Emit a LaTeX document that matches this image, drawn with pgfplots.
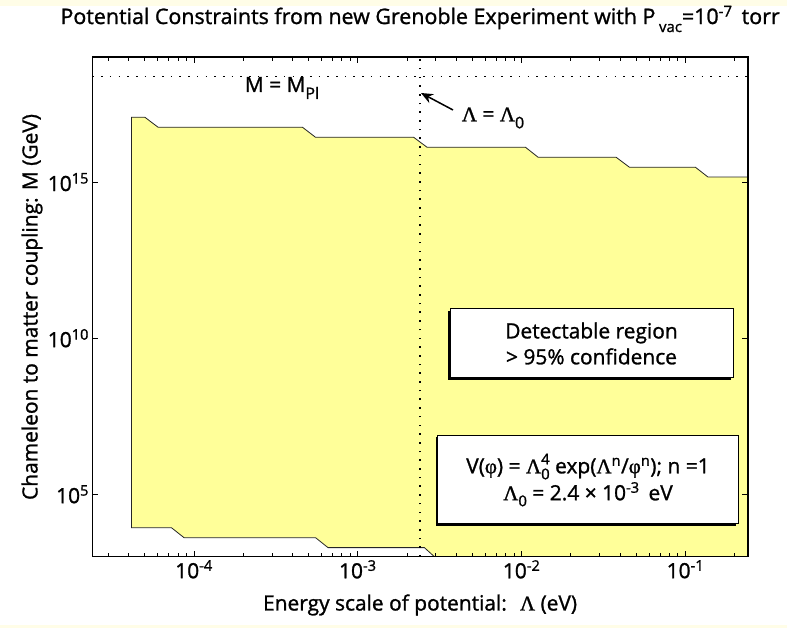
\documentclass[border=0pt]{standalone}
\usepackage{amsmath}
\usepackage{pgfplots}
\pgfplotsset{compat=1.18}
\usepackage{fontspec}
\setmainfont{Open Sans}[FakeBold=1.2]
\newfontfamily\grk{Liberation Serif}[FakeBold=1.2]
\usetikzlibrary{arrows.meta}
\definecolor{regfill}{RGB}{255,255,153}
\definecolor{pale}{RGB}{255,253,231}
\newcommand{\fs}{\fontsize{21}{26}\selectfont}
\newcommand{\La}{{\grk Λ}}
\newcommand{\ph}{{\grk φ}}
\begin{document}
\begin{tikzpicture}[x=1bp,y=1bp]
\useasboundingbox (0,0) rectangle (787,628);
\fill[white] (0,0) rectangle (787,628);
\fill[pale] (0,622) rectangle (787,628);
\fill[pale] (0,0) rectangle (787,3);
\begin{axis}[
  at={(92.5bp,71.3bp)}, anchor=south west,
  scale only axis, width=655.2bp, height=499.4bp,
  xmode=log, ymode=log,
  xmin=2.4e-5, xmax=0.24, ymin=1e3, ymax=1e19,
  xtick={1e-4,1e-3,1e-2,1e-1},
  xticklabels={10\textsuperscript{-4},10\textsuperscript{-3},10\textsuperscript{-2},10\textsuperscript{-1}},
  minor xtick={3e-5,4e-5,5e-5,6e-5,7e-5,8e-5,9e-5,2e-4,3e-4,4e-4,5e-4,6e-4,7e-4,8e-4,9e-4,2e-3,3e-3,4e-3,5e-3,6e-3,7e-3,8e-3,9e-3,2e-2,3e-2,4e-2,5e-2,6e-2,7e-2,8e-2,9e-2,2e-1},
  ytick={1e5,1e10,1e15},
  yticklabels={10\textsuperscript{5},10\textsuperscript{10},10\textsuperscript{15}},
  yminorticks=false,
  tick align=inside,
  major tick length=6bp, minor tick length=3.5bp,
  every tick/.style={black, line width=1bp},
  axis line style={line width=1.6bp},
  tick label style={font=\fs},
  axis on top=true,
  title={Potential Constraints from new Grenoble Experiment with P\,\raisebox{-8bp}{\fontsize{15}{15}\selectfont vac}=10\textsuperscript{-7}\, torr},
  title style={at={(axis description cs:0.5,1.0647)}, anchor=center, font=\fontsize{21.5}{26}\selectfont},
  xlabel={Energy scale of potential:\; \La\ (eV)},
  xlabel style={at={(axis description cs:0.5,-0.0967)}, anchor=center, font=\fs},
  ylabel={Chameleon to matter coupling: M (GeV)},
  ylabel style={at={(axis description cs:-0.0923,0.5)}, anchor=center, font=\fs},
]
\addplot[fill=regfill, draw=black!85, line width=0.8bp] coordinates {
(4.15e-5,8.5e3) (4.15e-5,1.2e17) (5.01e-5,1.2e17) (6.03e-5,5.75e16) (4.59e-4,5.75e16)
(5.51e-4,2.75e16) (2.19e-3,2.75e16) (2.64e-3,1.32e16) (1.054e-2,1.32e16) (1.259e-2,6.3e15)
(3.77e-2,6.3e15) (4.55e-2,3.0e15) (0.1151,3.0e15) (0.1374,1.45e15) (0.3,1.45e15)
(0.3,9e2) (3.00e-3,9e2) (2.55e-3,1.95e3) (6.58e-4,1.95e3) (5.52e-4,4.07e3)
(8.69e-5,4.07e3) (7.28e-5,8.5e3)
} -- cycle;
\addplot[black, line width=1.6bp, dash pattern=on 1.6bp off 7.1bp] coordinates {(2.4e-3,1e3) (2.4e-3,1e19)};
\addplot[black, line width=1.6bp, dash pattern=on 1.6bp off 7.1bp] coordinates {(2.4e-5,2.4e18) (0.24,2.4e18)};
\end{axis}
\draw[line width=1.5bp, -{Stealth[length=12bp,width=10bp]}] (453,518) -- (421,535);
\node[font=\fs] at (282,540) {M = M\raisebox{-7bp}{\fontsize{16}{16}\selectfont Pl}};
\node[font=\fs] at (493,510) {\La\ = \La\raisebox{-7bp}{\fontsize{16}{16}\selectfont 0}};
\fill[black] (448.3,248.3) rectangle (731.3,317.3);
\draw[fill=white, line width=1bp] (450,250) rectangle (733,319);
\node[font=\fs, align=center] at (591.5,284.5) {Detectable region\\> 95\% confidence};
\fill[black] (436,102.3) rectangle (736.3,190.6);
\draw[fill=white, line width=1bp] (437.7,104) rectangle (738,192.3);
\node[font=\fontsize{21}{27}\selectfont, align=center] at (588,148) {V(\ph) = \La\rlap{\raisebox{9bp}{\fontsize{15}{15}\selectfont 4}}\raisebox{-6bp}{\fontsize{15}{15}\selectfont 0} exp(\La\textsuperscript{n}/\ph\textsuperscript{n}); n =1\\\La\raisebox{-6bp}{\fontsize{15}{15}\selectfont 0} = 2.4 × 10\textsuperscript{-3}\, eV};
\end{tikzpicture}
\end{document}
